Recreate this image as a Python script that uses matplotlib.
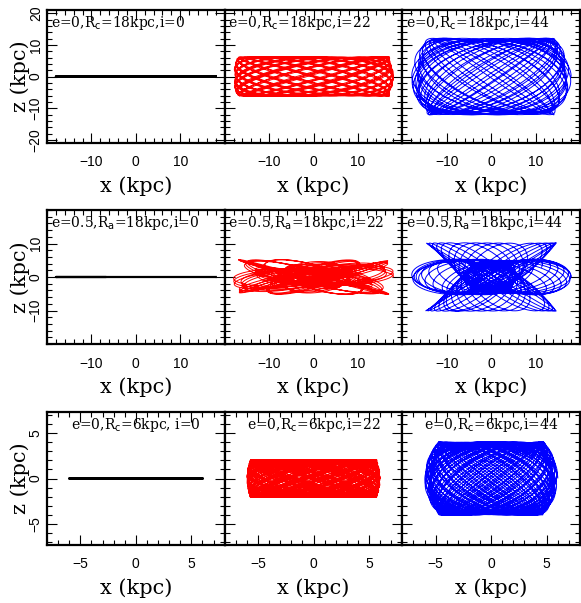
import numpy as np
import matplotlib
matplotlib.use("Agg")
import matplotlib.pyplot as plt
from matplotlib.ticker import MultipleLocator, FixedLocator

# orbit parameters
rows_ecc = [0.0, 0.5, 0.0]
rows_radius = [18.0, 18.0, 6.0]          # R_c (circular) or R_a (apocentre), kpc
rows_rname = ["c", "a", "c"]
rows_time = [16.0, 16.0, 10.0]           # integration time, kpc/(km/s)
incl_deg = [0, 22, 44]
line_colors = ["black", "red", "blue"]
line_widths = [1.6, 0.7, 0.7]

# axis setup per row
row_xlim = [20.0, 20.0, 8.0]
row_ylim = [21.0, 20.0, 7.3]
row_xticks = [[-10, 0, 10], [-10, 0, 10], [-5, 0, 5]]
row_yticks = [[-20, -10, 0, 10, 20], [-10, 0, 10], [-5, 0, 5]]
row_xminor = [2, 2, 1]
row_yminor = [2, 2, 1]

# potential / integration (flattened logarithmic halo)
V0 = 220.0      # km/s
RCORE = 1.0     # kpc
QFLAT = 0.9
DT = 0.0004


def accel(p):
    x, y, z = p[:, 0], p[:, 1], p[:, 2]
    d = RCORE**2 + x**2 + y**2 + (z / QFLAT)**2
    f = -V0**2 / d
    return np.stack([f * x, f * y, f * z / QFLAT**2], axis=1)


def start_speed(ecc, r):
    if ecc == 0:
        return V0 * r / np.sqrt(RCORE**2 + r**2)
    rp = r * (1 - ecc) / (1 + ecc)
    lnr = np.log((RCORE**2 + r**2) / (RCORE**2 + rp**2))
    return V0 * np.sqrt(lnr / (r**2 / rp**2 - 1))


def integrate(ecc, r, inc, tmax):
    v = start_speed(ecc, r)
    a = np.radians(inc)
    pos = np.array([[r, 0.0, 0.0]])
    vel = np.array([[0.0, v * np.cos(a), v * np.sin(a)]])
    n = int(tmax / DT)
    out = np.empty((n, 3))
    acc = accel(pos)
    for k in range(n):
        vel += 0.5 * DT * acc
        pos += DT * vel
        acc = accel(pos)
        vel += 0.5 * DT * acc
        out[k] = pos[0]
    return out


fig = plt.figure(figsize=(5.81, 6.03), dpi=100)
left, right = 47 / 581, 580 / 581
w = (right - left) / 3
row_top = [1 - 10 / 603, 1 - 210 / 603, 1 - 412 / 603]
row_bot = [1 - 143 / 603, 1 - 344 / 603, 1 - 545 / 603]

for r in range(3):
    for c in range(3):
        ax = fig.add_axes([left + c * w, row_bot[r], w, row_top[r] - row_bot[r]])
        orb = integrate(rows_ecc[r], rows_radius[r], incl_deg[c], rows_time[r])
        ax.plot(orb[:, 0], orb[:, 2], color=line_colors[c], lw=line_widths[c])
        ax.set_xlim(-row_xlim[r], row_xlim[r])
        ax.set_ylim(-row_ylim[r], row_ylim[r])
        ax.xaxis.set_major_locator(FixedLocator(row_xticks[r]))
        ax.yaxis.set_major_locator(FixedLocator(row_yticks[r]))
        ax.xaxis.set_minor_locator(MultipleLocator(row_xminor[r]))
        ax.yaxis.set_minor_locator(MultipleLocator(row_yminor[r]))
        ax.tick_params(which="both", direction="in", top=True, right=True, width=0.8)
        ax.tick_params(which="major", length=7)
        ax.tick_params(which="minor", length=3.5)
        ax.tick_params(axis="x", pad=9, labelsize=10)
        ax.tick_params(axis="y", pad=3, labelsize=10)
        for lab in ax.get_xticklabels() + ax.get_yticklabels():
            lab.set_family("Liberation Sans")
        for s in ax.spines.values():
            s.set_linewidth(1.6)
        if c == 0:
            plt.setp(ax.get_yticklabels(), rotation=90, va="center")
            ax.set_ylabel("z (kpc)", family="DejaVu Serif", fontsize=15, labelpad=-1)
        else:
            ax.set_yticklabels([])
        ax.set_xlabel("x (kpc)", family="DejaVu Serif", fontsize=15, labelpad=5)

        e = rows_ecc[r]
        es = "0" if e == 0 else str(e)
        R = int(rows_radius[r])
        sep = ", " if (r == 2 and c == 0) else ","
        txt = "e=%s,R$_{\\rm %s}$=%dkpc%si=%d" % (es, rows_rname[r], R, sep, incl_deg[c])
        if r == 2:
            ax.text(0.5, 0.90, txt, transform=ax.transAxes, ha="center", va="center",
                    family="DejaVu Serif", fontsize=10)
        else:
            ax.text(0.02, 0.90, txt, transform=ax.transAxes, ha="left", va="center",
                    family="DejaVu Serif", fontsize=10)

plt.savefig("out.png", dpi=100)
